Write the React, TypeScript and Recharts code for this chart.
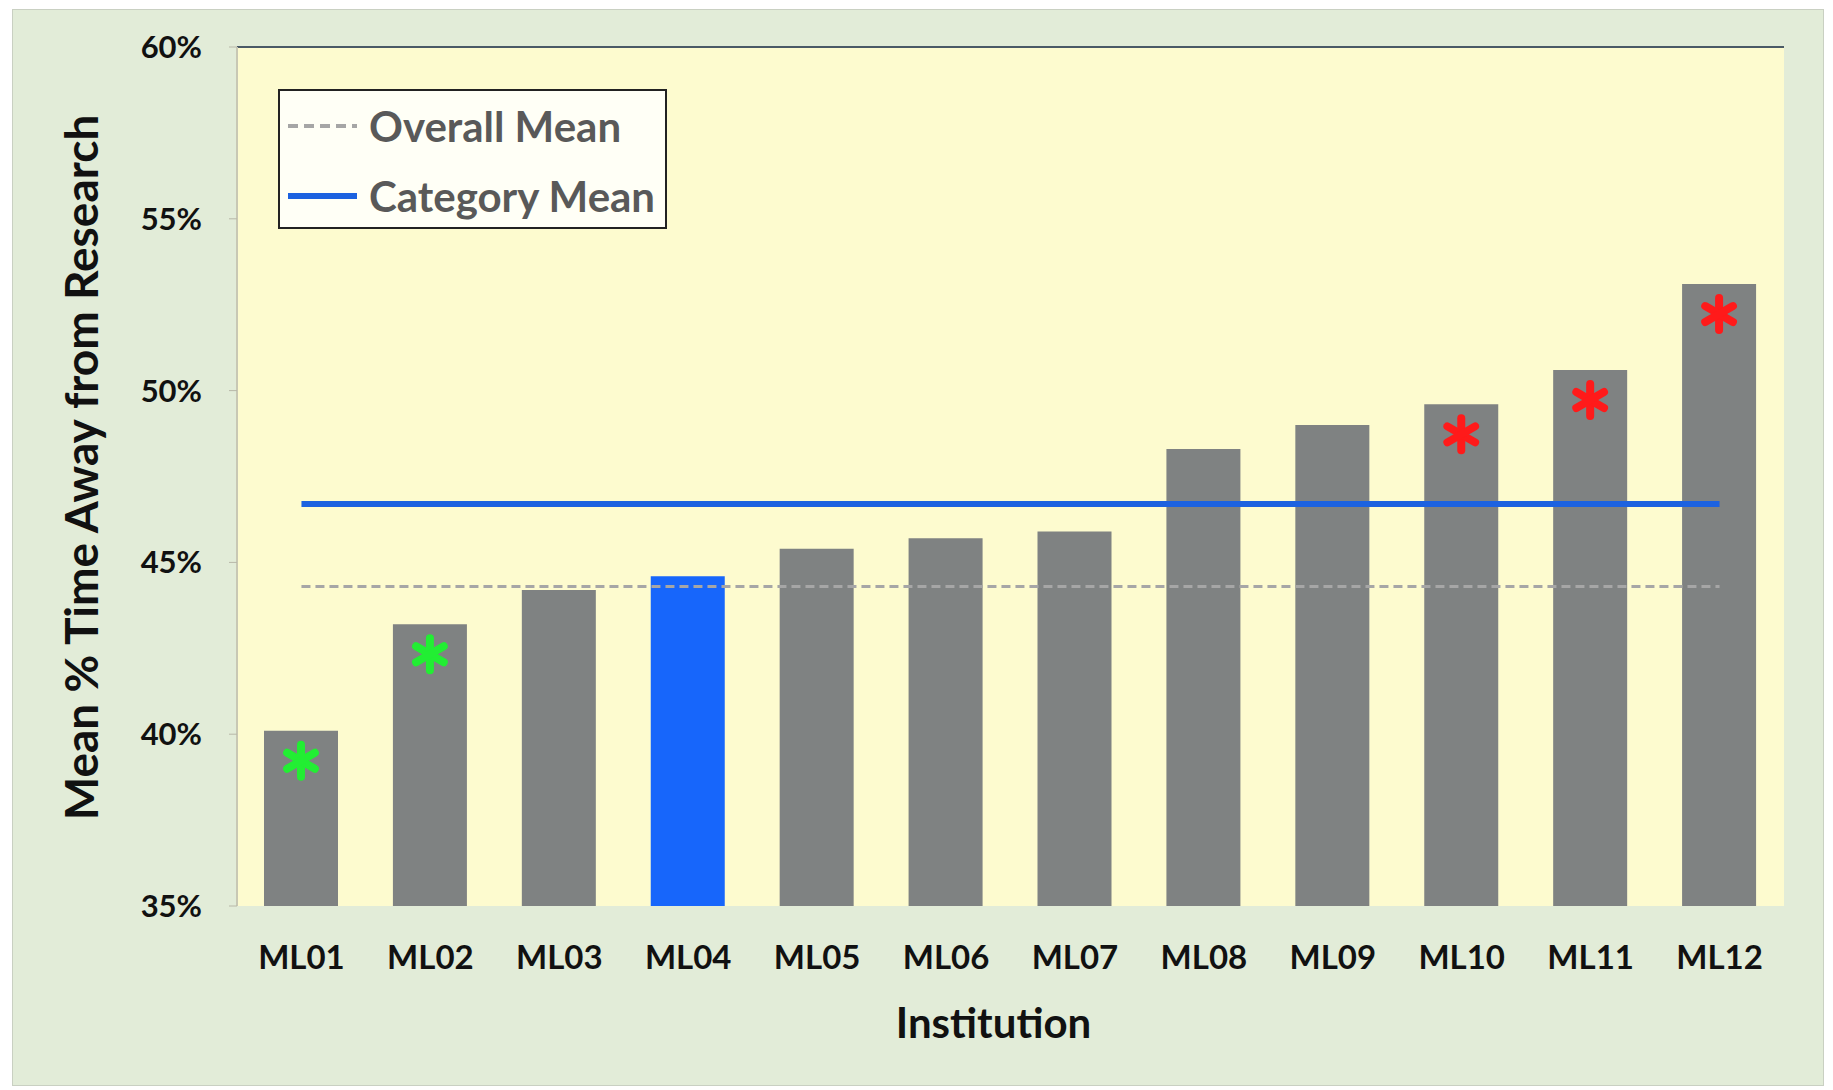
import {
  ComposedChart,
  Bar,
  Line,
  Cell,
  XAxis,
  YAxis,
  CartesianGrid,
  ReferenceLine,
  Legend,
  LabelList,
} from "recharts";

// values
const categories = ["ML01", "ML02", "ML03", "ML04", "ML05", "ML06", "ML07", "ML08", "ML09", "ML10", "ML11", "ML12"];
const timeAway = [0.401, 0.432, 0.442, 0.446, 0.454, 0.457, 0.459, 0.483, 0.49, 0.496, 0.506, 0.531];
const highlighted = ["ML04"];
const markers = ["green", "green", "", "", "", "", "", "", "", "red", "red", "red"];
const OVERALL_MEAN = 0.443;
const CATEGORY_MEAN = 0.467;
const yTicks = [0.35, 0.4, 0.45, 0.5, 0.55, 0.6];
const boundaryTicks = [0, 1, 2, 3, 4, 5, 6, 7, 8, 9, 10, 11, 12];

const data = categories.map((name, i) => ({
  name,
  value: timeAway[i],
  marker: markers[i],
  overall: OVERALL_MEAN,
  category: CATEGORY_MEAN,
}));

const FONT = "Lato, 'Open Sans', sans-serif";
const markerColors: Record<string, string> = { green: "#22ee33", red: "#ff1a1a" };

const Asterisk = (props: any) => {
  const { x, y, width, value } = props;
  if (!value) return null;
  const cx = Number(x) + Number(width) / 2;
  const cy = Number(y) + 30;
  const r = 16;
  const color = markerColors[value];
  return (
    <g>
      {[90, 30, 150].map((a) => {
        const dx = Math.cos((a * Math.PI) / 180) * r;
        const dy = Math.sin((a * Math.PI) / 180) * r;
        return (
          <line
            key={a}
            x1={cx - dx}
            y1={cy - dy}
            x2={cx + dx}
            y2={cy + dy}
            stroke={color}
            strokeWidth={8}
            strokeLinecap="round"
          />
        );
      })}
    </g>
  );
};

const LegendBox = () => (
  <div
    style={{
      width: 389,
      height: 140,
      boxSizing: "border-box",
      border: "2px solid #222",
      background: "#fffff6",
      fontFamily: FONT,
      fontWeight: 700,
      fontSize: 42,
      color: "#595959",
      position: "relative",
    }}
  >
    {[
      { label: "Overall Mean", top: 35, dashed: true },
      { label: "Category Mean", top: 105, dashed: false },
    ].map((row) => (
      <div
        key={row.label}
        style={{ position: "absolute", left: 6, top: row.top - 25, height: 50, display: "flex", alignItems: "center" }}
      >
        <svg width={73} height={20} style={{ marginRight: 10 }}>
          <line
            x1={2}
            y1={10}
            x2={71}
            y2={10}
            stroke={row.dashed ? "#a6a6a6" : "#1c62e0"}
            strokeWidth={row.dashed ? 4 : 6}
            strokeDasharray={row.dashed ? "10 6" : undefined}
          />
        </svg>
        <span style={{ whiteSpace: "nowrap" }}>{row.label}</span>
      </div>
    ))}
  </div>
);

export default function App() {
  return (
    <div style={{ position: "absolute", left: 0, top: 0, width: 1833, height: 1090, background: "#fff" }}>
      <div
        style={{
          position: "absolute",
          left: 12,
          top: 9,
          width: 1812,
          height: 1077,
          boxSizing: "border-box",
          background: "#e2ecd8",
          border: "1px solid #c9d0c2",
        }}
      />
      <div style={{ position: "absolute", left: 0, top: 0 }}>
        <ComposedChart
          width={1833}
          height={1090}
          data={data}
          margin={{ top: 47, right: 49, bottom: 54, left: 87 }}
        >
          <CartesianGrid fill="#fdfbcf" horizontal={false} vertical={false} xAxisId="cat" yAxisId="left" />
          <XAxis
            xAxisId="grid"
            type="number"
            domain={[0, 12]}
            ticks={boundaryTicks}
            height={0}
            tickSize={14}
            tickFormatter={() => ""}
            axisLine={{ stroke: "#c8c8b4", strokeWidth: 2 }}
            tickLine={{ stroke: "#c8c8b4" }}
          />
          <XAxis
            xAxisId="cat"
            dataKey="name"
            height={130}
            axisLine={false}
            tickLine={false}
            tickSize={0}
            tickMargin={40}
            interval={0}
            tick={{ fill: "#111", fontFamily: FONT, fontWeight: 700, fontSize: 33 }}
            label={{
              value: "Institution",
              position: "insideTop",
              offset: 102,
              dx: -17,
              fill: "#111",
              fontFamily: FONT,
              fontWeight: 700,
              fontSize: 42,
            }}
          />
          <YAxis
            yAxisId="left"
            width={150}
            domain={[0.35, 0.6]}
            ticks={yTicks}
            tickFormatter={(v: number) => `${Math.round(v * 100)}%`}
            tickSize={8}
            tickMargin={27}
            axisLine={{ stroke: "#c8c8b4", strokeWidth: 2 }}
            tickLine={{ stroke: "#b8b8a8" }}
            tick={{ fill: "#111", fontFamily: FONT, fontWeight: 700, fontSize: 31 }}
            label={{
              value: "Mean % Time Away from Research",
              angle: -90,
              position: "center",
              dx: -80,
              dy: -9,
              fill: "#111",
              fontFamily: FONT,
              fontWeight: 700,
              fontSize: 46,
            }}
          />
          <YAxis
            yAxisId="right"
            orientation="right"
            width={0}
            domain={[0, 1]}
            tick={false}
            tickLine={false}
            axisLine={{ stroke: "#4a5a66", strokeWidth: 2 }}
          />
          <ReferenceLine yAxisId="left" xAxisId="cat" y={0.6} stroke="#4a5a66" strokeWidth={2} />
          <Legend
            layout="vertical"
            align="center"
            verticalAlign="middle"
            content={<LegendBox />}
            wrapperStyle={{ position: "absolute", left: 278, top: 89, width: 389, height: 140 }}
          />
          <Bar xAxisId="cat" yAxisId="left" dataKey="value" barSize={74} isAnimationActive={false}>
            {data.map((d) => (
              <Cell key={d.name} fill={highlighted.includes(d.name) ? "#1766fb" : "#7f8282"} />
            ))}
            <LabelList dataKey="marker" content={Asterisk} />
          </Bar>
          <Line
            xAxisId="cat"
            yAxisId="left"
            dataKey="overall"
            stroke="#a6a6a6"
            strokeWidth={3}
            strokeDasharray="9 5"
            dot={false}
            activeDot={false}
            isAnimationActive={false}
          />
          <Line
            xAxisId="cat"
            yAxisId="left"
            dataKey="category"
            stroke="#1c62e0"
            strokeWidth={6}
            dot={false}
            activeDot={false}
            isAnimationActive={false}
          />
        </ComposedChart>
      </div>
    </div>
  );
}
